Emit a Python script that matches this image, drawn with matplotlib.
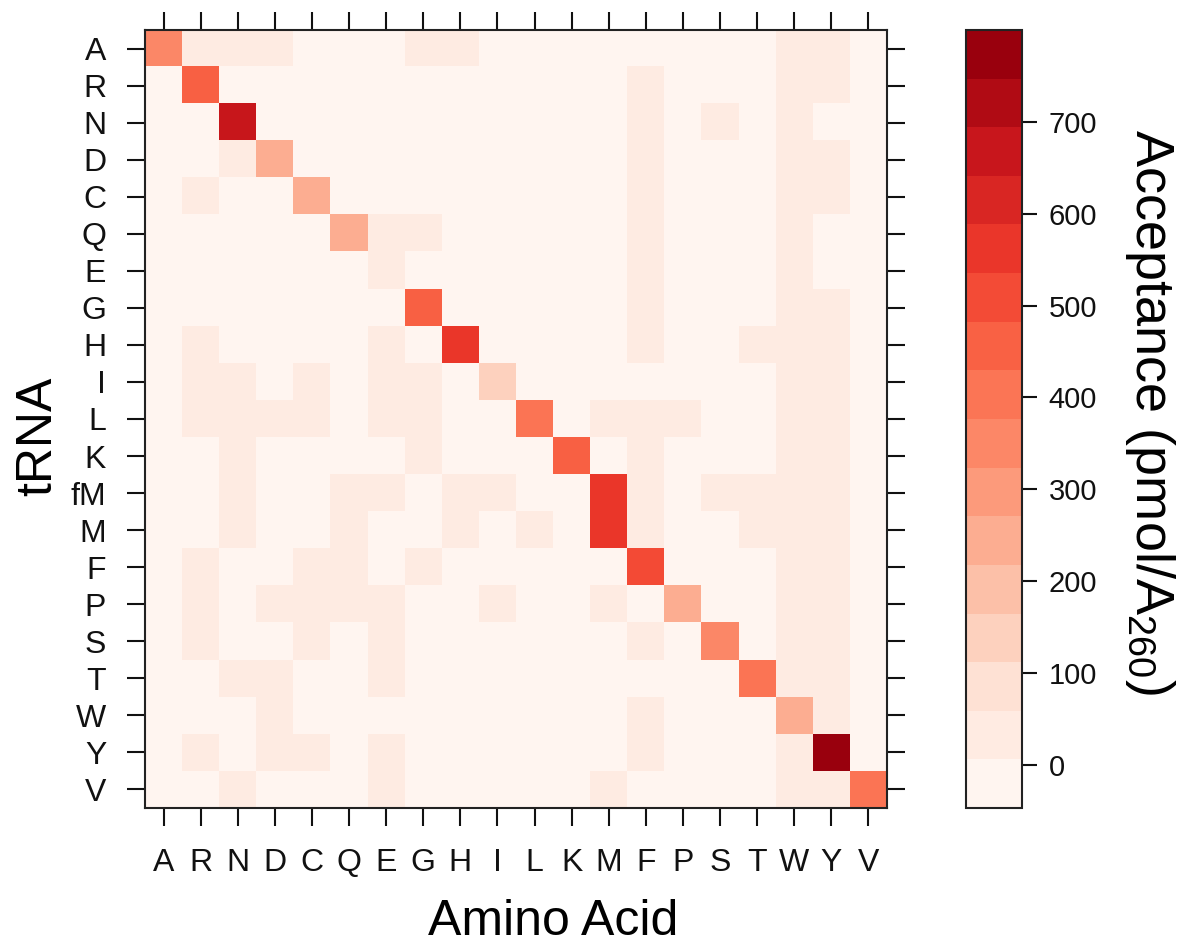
import numpy as np
import matplotlib.pyplot as plt
from matplotlib.colors import LinearSegmentedColormap, ListedColormap, BoundaryNorm

plt.rcParams['font.family'] = ['Liberation Sans', 'DejaVu Sans']

amino_acids = ['A', 'R', 'N', 'D', 'C', 'Q', 'E', 'G', 'H', 'I',
               'L', 'K', 'M', 'F', 'P', 'S', 'T', 'W', 'Y', 'V']
trnas = ['A', 'R', 'N', 'D', 'C', 'Q', 'E', 'G', 'H', 'I', 'L',
         'K', 'fM', 'M', 'F', 'P', 'S', 'T', 'W', 'Y', 'V']

# acceptance (pmol/A260), one row per tRNA, columns follow amino_acids
acceptance = [
    [350, 30, 30, 30, 0, 0, 0, 30, 30, 0, 0, 0, 0, 0, 0, 0, 0, 30, 30, 0],      # A
    [0, 455, 0, 0, 0, 0, 0, 0, 0, 0, 0, 0, 0, 30, 0, 0, 0, 30, 30, 0],          # R
    [0, 0, 670, 0, 0, 0, 0, 0, 0, 0, 0, 0, 0, 30, 0, 30, 0, 30, 0, 0],          # N
    [0, 0, 30, 245, 0, 0, 0, 0, 0, 0, 0, 0, 0, 30, 0, 0, 0, 30, 30, 0],         # D
    [0, 30, 0, 0, 245, 0, 0, 0, 0, 0, 0, 0, 0, 30, 0, 0, 0, 30, 30, 0],         # C
    [0, 0, 0, 0, 0, 245, 30, 30, 0, 0, 0, 0, 0, 30, 0, 0, 0, 30, 0, 0],         # Q
    [0, 0, 0, 0, 0, 0, 30, 0, 0, 0, 0, 0, 0, 30, 0, 0, 0, 30, 0, 0],            # E
    [0, 0, 0, 0, 0, 0, 0, 455, 0, 0, 0, 0, 0, 30, 0, 0, 0, 30, 30, 0],          # G
    [0, 30, 0, 0, 0, 0, 30, 0, 565, 0, 0, 0, 0, 30, 0, 0, 30, 30, 30, 0],       # H
    [0, 30, 30, 0, 30, 0, 30, 30, 0, 140, 0, 0, 0, 0, 0, 0, 0, 30, 30, 0],      # I
    [0, 30, 30, 30, 30, 0, 30, 30, 0, 0, 405, 0, 30, 30, 30, 0, 0, 30, 30, 0],  # L
    [0, 0, 30, 0, 0, 0, 0, 30, 0, 0, 0, 455, 0, 30, 0, 0, 0, 30, 30, 0],        # K
    [0, 0, 30, 0, 0, 30, 30, 0, 30, 30, 0, 0, 565, 30, 0, 30, 30, 30, 30, 0],   # fM
    [0, 0, 30, 0, 0, 30, 0, 0, 30, 0, 30, 0, 565, 30, 0, 0, 30, 30, 30, 0],     # M
    [0, 30, 0, 0, 30, 30, 0, 30, 0, 0, 0, 0, 0, 510, 0, 0, 0, 30, 30, 0],       # F
    [0, 30, 0, 30, 30, 30, 30, 0, 0, 30, 0, 0, 30, 0, 245, 0, 0, 30, 30, 0],    # P
    [0, 30, 0, 0, 30, 0, 30, 0, 0, 0, 0, 0, 0, 30, 0, 350, 0, 30, 30, 0],       # S
    [0, 0, 30, 30, 0, 0, 30, 0, 0, 0, 0, 0, 0, 0, 0, 0, 405, 30, 30, 0],        # T
    [0, 0, 0, 30, 0, 0, 0, 0, 0, 0, 0, 0, 0, 30, 0, 0, 0, 245, 30, 0],          # W
    [0, 30, 0, 30, 30, 0, 30, 0, 0, 0, 0, 0, 0, 30, 0, 0, 0, 30, 800, 0],       # Y
    [0, 0, 30, 0, 0, 0, 30, 0, 0, 0, 0, 0, 30, 0, 0, 0, 0, 30, 30, 405],        # V
]

z_min, z_max = -47, 800
n_cuts = 16

# lattice-like discrete palette built from brewer Reds (8 class)
reds8 = ['#FFF5F0', '#FEE0D2', '#FCBBA1', '#FC9272',
         '#FB6A4A', '#EF3B2C', '#CB181D', '#99000D']
ramp = LinearSegmentedColormap.from_list('reds8', reds8)
cmap = ListedColormap(ramp(np.linspace(0, 1, n_cuts)))
bounds = np.linspace(z_min, z_max, n_cuts + 1)
norm = BoundaryNorm(bounds, cmap.N)

W, H = 1186, 947
fig = plt.figure(figsize=(W / 100, H / 100), dpi=100)

ax = fig.add_axes([145 / W, 1 - 808 / H, (887 - 145) / W, (808 - 30) / H])
im = ax.imshow(np.array(acceptance), cmap=cmap, norm=norm,
               aspect='auto', interpolation='nearest')

ax.set_xticks(range(len(amino_acids)))
ax.set_xticklabels(amino_acids)
ax.set_yticks(range(len(trnas)))
ax.set_yticklabels(trnas)
ax.tick_params(axis='both', direction='out', length=13, width=1.5,
               top=True, right=True, labelsize=23, colors='#111111')
ax.tick_params(axis='x', pad=16)
ax.tick_params(axis='y', pad=15)
for sp in ax.spines.values():
    sp.set_linewidth(1.5)
    sp.set_color('#222222')

fig.text(553 / W, 1 - 922 / H, 'Amino Acid', fontsize=36,
         ha='center', va='center')
fig.text(38 / W, 1 - 436 / H, 'tRNA', fontsize=36, rotation=90,
         ha='center', va='center')

cax = fig.add_axes([966 / W, 1 - 808 / H, 56 / W, (808 - 30) / H])
cb = fig.colorbar(im, cax=cax, ticks=range(0, 800, 100))
cb.minorticks_off()
cb.outline.set_linewidth(1.5)
cb.outline.set_edgecolor('#222222')
cax.tick_params(length=11, width=1.5, labelsize=21, pad=8, colors='#111111')

fig.text(1150 / W, 1 - 412 / H, r'Acceptance (pmol/A$_{\mathregular{260}}$)',
         fontsize=39, rotation=270, ha='center', va='center')

fig.savefig('out.png', dpi=100)
